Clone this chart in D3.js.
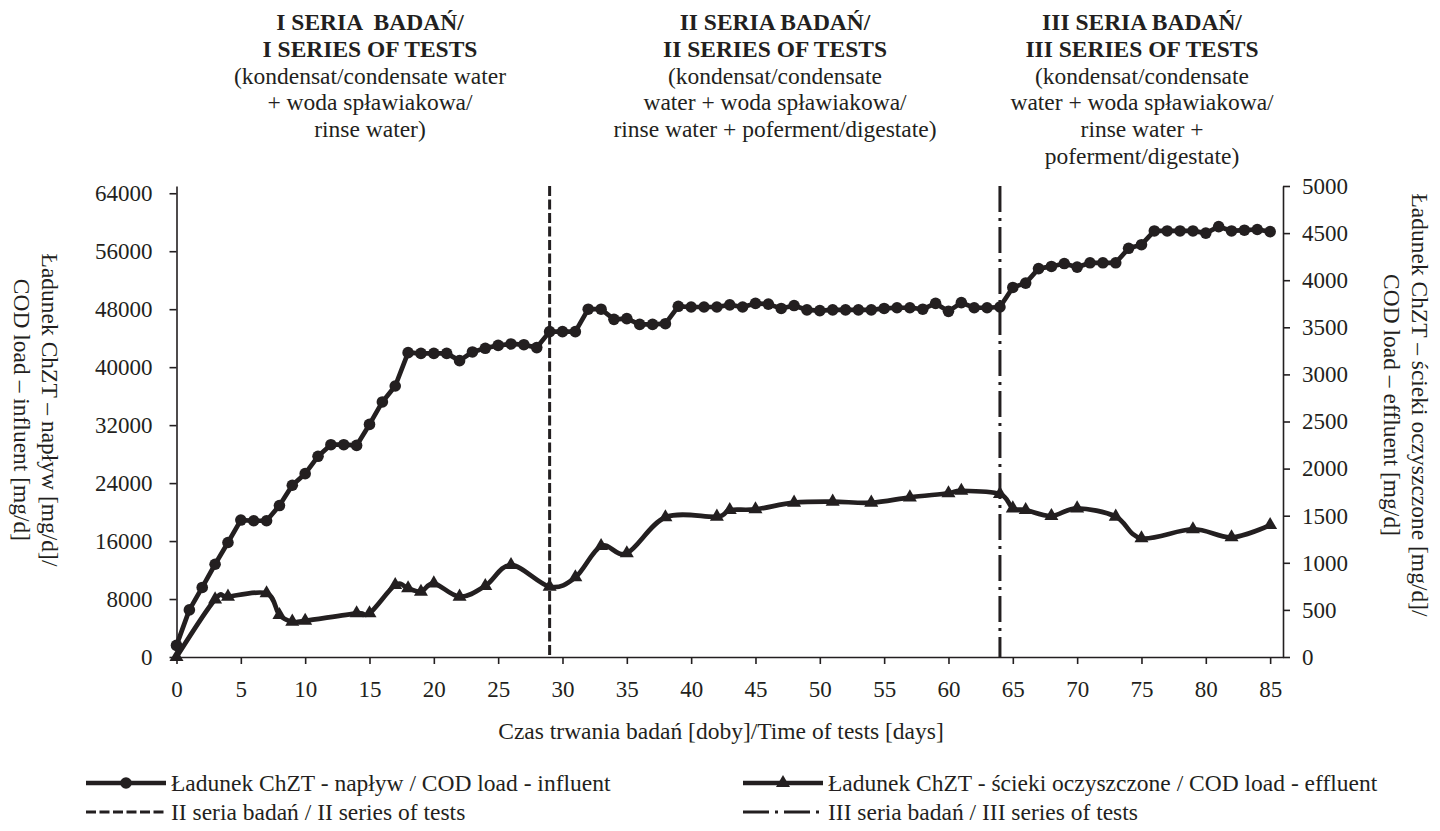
<!DOCTYPE html>
<html>
<head>
<meta charset="utf-8">
<script src="https://cdn.jsdelivr.net/npm/d3@7"></script>
<style>
  body { margin: 0; background: #fff; }
  svg text { font-family: 'Liberation Serif', Tinos, 'Times New Roman', 'DejaVu Serif', serif !important; fill: #231f20; white-space: pre; }
</style>
</head>
<body>
<script>
"use strict";

// influent COD load, one reading per day (left axis, mg/d)
const influentDays = d3.range(0, 86);
const influentLoad = [
  1600, 6500, 9600, 12800, 15800, 18900, 18800, 18800, 20900, 23700,
  25300, 27700, 29300, 29300, 29200, 32100, 35200, 37400, 42000, 41900,
  41900, 41900, 40900, 42100, 42600, 43000, 43200, 43100, 42700, 44900,
  44900, 44900, 48000, 48000, 46600, 46700, 45900, 45900, 46000, 48400,
  48300, 48300, 48300, 48600, 48300, 48800, 48700, 48100, 48500, 47900,
  47800, 47900, 47900, 47900, 47900, 48100, 48200, 48200, 48000, 48800,
  47700, 48900, 48200, 48200, 48300, 51000, 51600, 53600, 53900, 54300,
  53800, 54400, 54400, 54400, 56400, 56900, 58800, 58800, 58800, 58800,
  58500, 59400, 58800, 58900, 59000, 58700
];

// effluent COD load (right axis, mg/d)
const effluentDays = [0, 3, 4, 7, 8, 9, 10, 14, 15, 17, 18, 19, 20, 22, 24, 26, 29, 31, 33, 35,
  38, 42, 43, 45, 48, 51, 54, 57, 60, 61, 64, 65, 66, 68, 70, 73, 75, 79, 82, 85];
const effluentLoad = [0, 612, 640, 676, 446, 375, 385, 464, 464, 764, 729, 693, 782, 640, 754, 977, 746, 846, 1178, 1101,
  1483, 1490, 1560, 1568, 1638, 1649, 1638, 1695, 1738, 1765, 1730, 1578, 1560, 1497, 1578, 1490, 1260, 1356, 1271, 1401];

// start days of test series II and III
const seriesStarts = [29, 64];

const xTicks = d3.range(0, 86, 5);
const leftTicks = d3.range(0, 64001, 8000);
const rightTicks = d3.range(0, 5001, 500);

const headers = [
  { cx: 370, bold: ["I SERIA  BADAŃ/", "I SERIES OF TESTS"],
    lines: ["(kondensat/condensate water", "+ woda spławiakowa/", "rinse water)"] },
  { cx: 775, bold: ["II SERIA BADAŃ/", "II SERIES OF TESTS"],
    lines: ["(kondensat/condensate", "water + woda spławiakowa/", "rinse water + poferment/digestate)"] },
  { cx: 1142, bold: ["III SERIA BADAŃ/", "III SERIES OF TESTS"],
    lines: ["(kondensat/condensate", "water + woda spławiakowa/", "rinse water +", "poferment/digestate)"] }
];

const ink = "#231f20";
const fontStack = "'Liberation Serif', Tinos, 'Times New Roman', 'DejaVu Serif', serif";
const width = 1440;
const height = 831;
const plot = { left: 176.5, right: 1283, top: 186, bottom: 657 };

const svg = d3.select("body").append("svg")
  .attr("width", width)
  .attr("height", height)
  .attr("font-family", fontStack)
  .attr("font-size", 23.5);

const x = d3.scaleLinear().domain([0, 86]).range([plot.left, plot.right]);
const yLeft = d3.scaleLinear().domain([0, 65000]).range([plot.bottom, plot.top]);
const yRight = d3.scaleLinear().domain([0, 5000]).range([plot.bottom, plot.top]);

function styleAxis(g) {
  g.attr("font-family", fontStack).attr("font-size", 23);
  g.selectAll("path, line").attr("stroke", ink).attr("stroke-width", 1.6);
  g.selectAll("text").attr("fill", ink);
}

svg.append("g")
  .attr("transform", `translate(0,${plot.bottom})`)
  .call(d3.axisBottom(x).tickValues(xTicks).tickSize(7).tickSizeOuter(0).tickPadding(17))
  .call(styleAxis);

svg.append("g")
  .attr("transform", `translate(${plot.left},0)`)
  .call(d3.axisLeft(yLeft).tickValues(leftTicks).tickFormat(d3.format("d"))
    .tickSize(7).tickSizeOuter(0).tickPadding(17))
  .call(styleAxis);

svg.append("g")
  .attr("transform", `translate(${plot.right},0)`)
  .call(d3.axisRight(yRight).tickValues(rightTicks).tickFormat(d3.format("d"))
    .tickSize(7).tickSizeOuter(0).tickPadding(12))
  .call(styleAxis);

// series boundaries
const boundaryDash = ["10,3.5", "26,6,3,6"];
svg.append("g")
  .selectAll("line")
  .data(seriesStarts)
  .join("line")
  .attr("x1", (d) => x(d))
  .attr("x2", (d) => x(d))
  .attr("y1", plot.top)
  .attr("y2", plot.bottom)
  .attr("stroke", ink)
  .attr("stroke-width", 3)
  .attr("stroke-dasharray", (d, i) => boundaryDash[i]);

// influent line + circles
const influent = influentDays.map((d, i) => [d, influentLoad[i]]);
svg.append("path")
  .datum(influent)
  .attr("fill", "none")
  .attr("stroke", ink)
  .attr("stroke-width", 4.7)
  .attr("stroke-linejoin", "round")
  .attr("d", d3.line().x((d) => x(d[0])).y((d) => yLeft(d[1])));

svg.append("g")
  .selectAll("circle")
  .data(influent)
  .join("circle")
  .attr("cx", (d) => x(d[0]))
  .attr("cy", (d) => yLeft(d[1]))
  .attr("r", 5.8)
  .attr("fill", ink);

// effluent line + triangles
const effluent = effluentDays.map((d, i) => [d, effluentLoad[i]]);
svg.append("path")
  .datum(effluent)
  .attr("fill", "none")
  .attr("stroke", ink)
  .attr("stroke-width", 4.7)
  .attr("d", d3.line().curve(d3.curveCardinal).x((d) => x(d[0])).y((d) => yRight(d[1])));

const triangle = d3.symbol().type(d3.symbolTriangle).size(85);
svg.append("g")
  .selectAll("path")
  .data(effluent)
  .join("path")
  .attr("transform", (d) => `translate(${x(d[0])},${yRight(d[1])})`)
  .attr("d", triangle)
  .attr("fill", ink);

// series headers
const head = svg.append("g").attr("text-anchor", "middle");
headers.forEach((h) => {
  const t = head.append("text").attr("x", h.cx).attr("y", 30);
  h.bold.concat(h.lines).forEach((line, i) => {
    t.append("tspan")
      .attr("x", h.cx)
      .attr("dy", i === 0 ? 0 : 26.8)
      .attr("font-weight", i < 2 ? "bold" : null)
      .text(line);
  });
});

// axis titles
svg.append("text")
  .attr("x", 721)
  .attr("y", 739)
  .attr("text-anchor", "middle")
  .text("Czas trwania badań [doby]/Time of tests [days]");

function sideTitle(cx, cy, lines) {
  const t = svg.append("text")
    .attr("transform", `translate(${cx},${cy}) rotate(90)`)
    .attr("text-anchor", "middle");
  lines.forEach((line, i) => {
    t.append("tspan").attr("x", 0).attr("dy", i === 0 ? 0 : 28).text(line);
  });
}
sideTitle(42, 410, ["Ładunek ChZT – napływ [mg/d]/", "COD load – influent [mg/d]"]);
sideTitle(1412, 405, ["Ładunek ChZT – ścieki oczyszczone [mg/d]/", "COD load – effluent [mg/d]"]);

// legend
const legendItems = [
  { x0: 86, y: 783, label: "Ładunek ChZT - napływ / COD load - influent", marker: "circle" },
  { x0: 743, y: 783, label: "Ładunek ChZT - ścieki oczyszczone / COD load - effluent", marker: "triangle" },
  { x0: 86, y: 812, label: "II seria badań / II series of tests", dash: boundaryDash[0] },
  { x0: 743, y: 812, label: "III seria badań / III series of tests", dash: boundaryDash[1] }
];

const legend = svg.append("g");
legendItems.forEach((item) => {
  const g = legend.append("g").attr("transform", `translate(${item.x0},${item.y})`);
  g.append("line")
    .attr("x1", 0).attr("x2", 80)
    .attr("stroke", ink)
    .attr("stroke-width", item.dash ? 3 : 4.7)
    .attr("stroke-dasharray", item.dash || null);
  if (item.marker === "circle") {
    g.append("circle").attr("cx", 40).attr("r", 5.8).attr("fill", ink);
  } else if (item.marker === "triangle") {
    g.append("path").attr("transform", "translate(40,0)").attr("d", triangle).attr("fill", ink);
  }
  g.append("text").attr("x", 85).attr("y", 0).attr("dy", "0.35em").text(item.label);
});
</script>
</body>
</html>
